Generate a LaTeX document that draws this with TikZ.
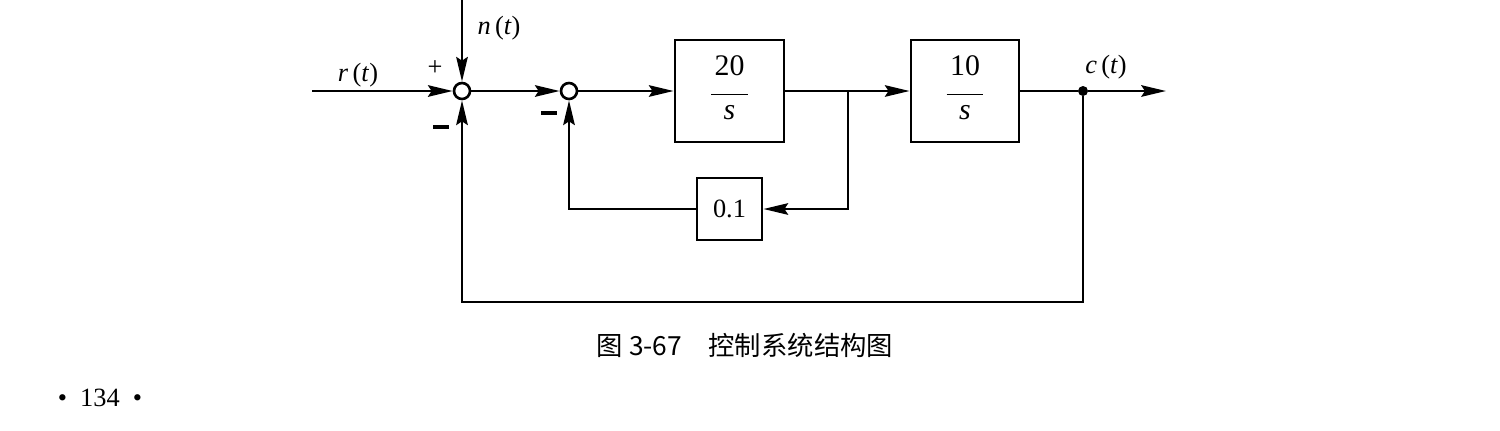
\documentclass[tikz,border=0pt]{standalone}
\usepackage{fontspec}
\setmainfont{Liberation Serif}
\newfontfamily\cjk{Noto Sans CJK SC}
\usetikzlibrary{arrows.meta, calc}

\newcommand{\blkfrac}[2]{\begin{tabular}{@{}c@{}}#1\\[-8pt]\rule{21pt}{0.8pt}\\[-5pt]\textit{#2}\end{tabular}}

\begin{document}
\begin{tikzpicture}[
		x=0.02cm, y=-0.02cm,
		>={Stealth[length=14pt, width=6.5pt, inset=2pt]},
		font=\fontsize{15}{17}\selectfont,
		block/.style  ={draw, line width=1.6pt, inner sep=0pt},
		sumpt/.style  ={draw, circle, line width=1.5pt, fill=white, minimum size=16*0.02cm, inner sep=0pt},
		dotpt/.style  ={circle, fill=black, minimum size=10*0.02cm, inner sep=0pt},
		sig/.style    ={->, line width=1.6pt},
		wire/.style   ={line width=1.6pt},
		lab/.style    ={inner sep=1pt}
		]
		
		\useasboundingbox (0,0) rectangle (1500,430);
		
		% --- Forward path ---
		\node[sumpt] (sum1) at (462,91) {};
		\node[sumpt] (sum2) at (569,91) {};
		\node[block, minimum width=109*0.02cm, minimum height=102*0.02cm, font=\fontsize{17}{19}\selectfont] (g1) at (729.5,91) {\blkfrac{20}{s}};
		\node[block, minimum width=108*0.02cm, minimum height=102*0.02cm, font=\fontsize{17}{19}\selectfont] (g2) at (965,91) {\blkfrac{10}{s}};
		\node[block, minimum width=65*0.02cm, minimum height=62*0.02cm] (h) at (729.5,209) {0.1};
		
		\coordinate (rin)  at (312,91);
		\coordinate (ntop) at (462,0);
		\coordinate (br1)  at (848,91);
		\node[dotpt] (cdot) at (1083,91) {};
		\coordinate (cout) at (1166,91);
		\coordinate (fbb)  at (462,302);
		
		\draw[sig] (rin)  -- (sum1);
		\draw[sig] (ntop) -- (sum1);
		\draw[sig] (sum1) -- (sum2);
		\draw[sig] (sum2) -- (g1);
		\draw[sig] (g1)   -- (g2);
		\draw[wire] (g2)  -- (cdot);
		\draw[sig] (cdot) -- (cout);
		
		% --- Inner loop ---
		\draw[sig] (br1) |- (h);
		\draw[sig] (h)   -| (sum2);
		
		% --- Outer loop ---
		\draw[sig] (cdot) |- (fbb) -- (sum1);
		
		% --- Signal labels and signs ---
		\node[lab] (rlab) at (358,75)  {\textit{r}\,(\textit{t})};
		\node[lab] (nlab) at (499,28)  {\textit{n}\,(\textit{t})};
		\node[lab] (clab) at (1106,67) {\textit{c}\,(\textit{t})};
		\node[lab] (p1)   at (435,68)  {+};
		\node[lab] (m1)   at (441,127) {\rule{9pt}{1.8pt}};
		\node[lab] (m2)   at (549,113) {\rule{9pt}{1.8pt}};
		
		% --- Caption and page number ---
		\node[lab, font=\cjk\fontsize{15}{17}\selectfont] (cap) at (745,345) {图 3-67\quad 控制系统结构图};
		\node[lab, font=\fontsize{15}{17}\selectfont] (page) at (100,398) {\textbullet\ \ 134\ \ \textbullet};
		
	\end{tikzpicture}
\end{document}
